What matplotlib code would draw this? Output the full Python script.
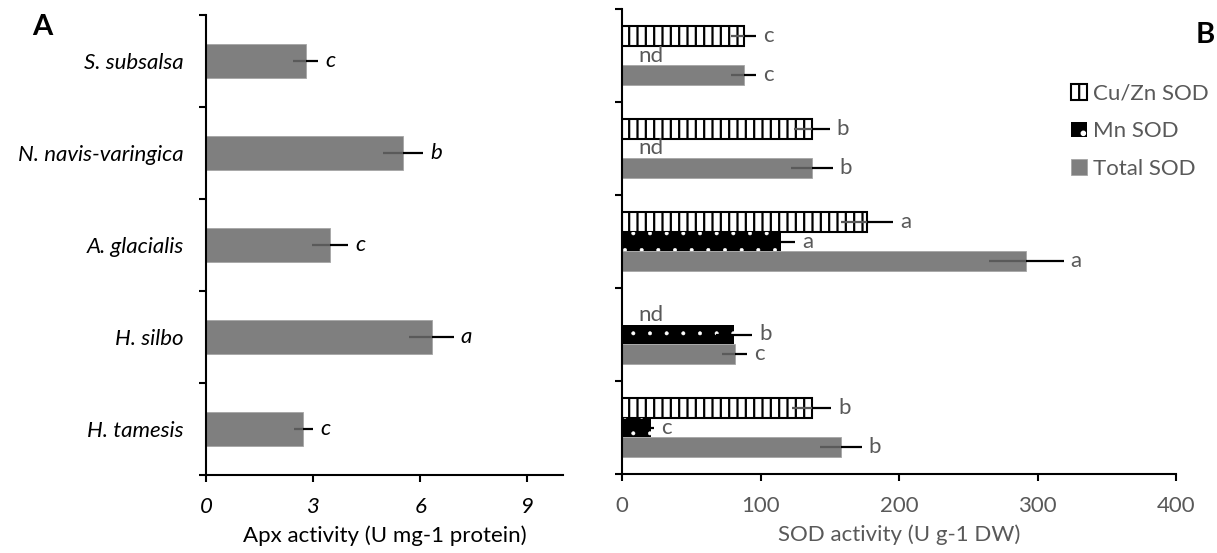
import numpy as np
import matplotlib
matplotlib.use("Agg")
import matplotlib.pyplot as plt
from matplotlib.patches import Patch

plt.rcParams['font.family'] = ['Lato', 'DejaVu Sans']
plt.rcParams['hatch.linewidth'] = 1.6

# ---------------- data ----------------
species = ["S. subsalsa", "N. navis-varingica", "A. glacialis", "H. silbo", "H. tamesis"]

apx = [2.8, 5.52, 3.47, 6.32, 2.73]
apx_err = [0.35, 0.57, 0.5, 0.62, 0.26]
apx_letters = ["c", "b", "c", "a", "c"]

cuzn = [88, 137, 177, np.nan, 137]
cuzn_err = [9, 13, 19, np.nan, 14]
cuzn_letters = ["c", "b", "a", "", "b"]

mn = [np.nan, np.nan, 115, 81, 21]
mn_err = [np.nan, np.nan, 10, 13, 2]
mn_letters = ["", "", "a", "b", "c"]

total = [88, 137, 292, 81.5, 158]
total_err = [9, 15, 27, 9, 15]
total_letters = ["c", "b", "a", "c", "b"]

apx_ticks = [0, 3, 6, 9]
sod_ticks = [0, 100, 200, 300, 400]

series_names = ["Cu/Zn SOD", "Mn SOD", "Total SOD"]

# ---------------- style ----------------
GREY = "#7f7f7f"
TXT_B = "#595959"
FS = 16

W, H = 1217, 553
fig = plt.figure(figsize=(W / 100, H / 100), dpi=100)

def fx(px):
    return px / W

def fy(py):
    return 1 - py / H

axA = fig.add_axes([fx(206), fy(475), fx(563) - fx(206), fy(15) - fy(475)])
axB = fig.add_axes([fx(622), fy(474), fx(1176) - fx(622), fy(9) - fy(474)])

y = np.arange(len(species))


def err_split(ax, vals, yy, errs, inner_color, outer_color='black', lw=1.6):
    vals = np.asarray(vals, float)
    errs = np.asarray(errs, float)
    z = np.zeros_like(errs)
    ax.errorbar(vals, yy, xerr=np.vstack([errs, z]), fmt='none',
                ecolor=inner_color, elinewidth=lw, capsize=0, zorder=4)
    ax.errorbar(vals, yy, xerr=np.vstack([z, errs]), fmt='none',
                ecolor=outer_color, elinewidth=lw, capsize=0, zorder=4)


def style_axes(ax, xt, xlim, color_txt, italic):
    for s in ['top', 'right']:
        ax.spines[s].set_visible(False)
    for s in ['left', 'bottom']:
        ax.spines[s].set_linewidth(1.5)
        ax.spines[s].set_color('black')
    ax.set_ylim(len(species) - 0.5, -0.5)
    ax.set_xlim(*xlim)
    ax.set_xticks(xt)
    ax.set_xticklabels([str(t) for t in xt], fontsize=FS, color=color_txt,
                       style='italic' if italic else 'normal')
    ax.tick_params(axis='x', length=5, width=1.5, direction='out', pad=11)
    ax.set_yticks(np.arange(len(species) + 1) - 0.5, minor=True)
    ax.tick_params(axis='y', which='minor', length=5, width=1.5, direction='out')


def thin_hatch(artists, lw):
    for a in artists:
        if hasattr(a, 'set_hatch_linewidth'):
            a.set_hatch_linewidth(lw)


# ---------------- panel A ----------------
axA.barh(y, apx, height=0.36, color=GREY, edgecolor='#a6a6a6', linewidth=0.6, zorder=2)
err_split(axA, apx, y, apx_err, '#5a5a5a')
for yi, v, e, l in zip(y, apx, apx_err, apx_letters):
    axA.text(v + e + 0.2, yi, l, fontsize=FS, style='italic', ha='left',
             va='center', color='black')
style_axes(axA, apx_ticks, (0, 10), 'black', True)
axA.set_yticks(y)
axA.set_yticklabels(species, fontsize=FS, style='italic', color='black')
axA.tick_params(axis='y', which='major', length=0, pad=16)
axA.set_xlabel("Apx activity (U mg-1 protein)", fontsize=FS, color='black', labelpad=6)

# ---------------- panel B ----------------
h = 0.215
off = [-h, 0, h]
axB.barh(y + off[0], cuzn, height=h, color='white', edgecolor='black',
         hatch='||', linewidth=1.5, zorder=2, label=series_names[0])
with plt.rc_context({'hatch.linewidth': 0.4}):
    mn_bars = axB.barh(y + off[1], mn, height=h, color='black', edgecolor='white',
                       hatch='.', linewidth=0, zorder=2, label=series_names[1])
thin_hatch(mn_bars, 0.4)
axB.barh(y + off[2], total, height=h, color=GREY, edgecolor='#a6a6a6',
         linewidth=0.6, zorder=2, label=series_names[2])

err_split(axB, cuzn, y + off[0], cuzn_err, '#5a5a5a')
err_split(axB, mn, y + off[1], mn_err, 'black')
err_split(axB, total, y + off[2], total_err, '#5a5a5a')

for vals, errs, lets, o in [(cuzn, cuzn_err, cuzn_letters, off[0]),
                            (mn, mn_err, mn_letters, off[1]),
                            (total, total_err, total_letters, off[2])]:
    for yi, v, e, l in zip(y, vals, errs, lets):
        if np.isnan(v):
            axB.text(11.5, yi + o, "nd", fontsize=FS, ha='left', va='center',
                     color=TXT_B)
        else:
            axB.text(v + e + 5, yi + o, l, fontsize=FS, ha='left', va='center',
                     color=TXT_B)

style_axes(axB, sod_ticks, (0, 400), TXT_B, False)
axB.set_yticks([])
axB.set_yticks(np.arange(len(species) + 1) - 0.5, minor=True)
axB.set_xlabel("SOD activity (U g-1 DW)", fontsize=FS, color=TXT_B, labelpad=6)

with plt.rc_context({'hatch.linewidth': 0.4}):
    mn_handle = Patch(facecolor='black', edgecolor='white', hatch='.', linewidth=0)
thin_hatch([mn_handle], 0.4)
handles = [Patch(facecolor='white', edgecolor='black', hatch='||', linewidth=1.5),
           mn_handle,
           Patch(facecolor=GREY, edgecolor='#a6a6a6', linewidth=0.6)]
fig.legend(handles, series_names, loc='upper left',
           bbox_to_anchor=(fx(1071), fy(84)), frameon=False, fontsize=FS,
           labelcolor=TXT_B, handlelength=0.7, handleheight=0.7,
           handletextpad=0.3, labelspacing=0.78, borderpad=0, borderaxespad=0)

fig.text(fx(42), fy(27), "A", fontsize=21, fontweight='bold', ha='center', va='center')
fig.text(fx(1205), fy(35), "B", fontsize=21, fontweight='bold', ha='center', va='center')

fig.savefig("out.png", dpi=100)
